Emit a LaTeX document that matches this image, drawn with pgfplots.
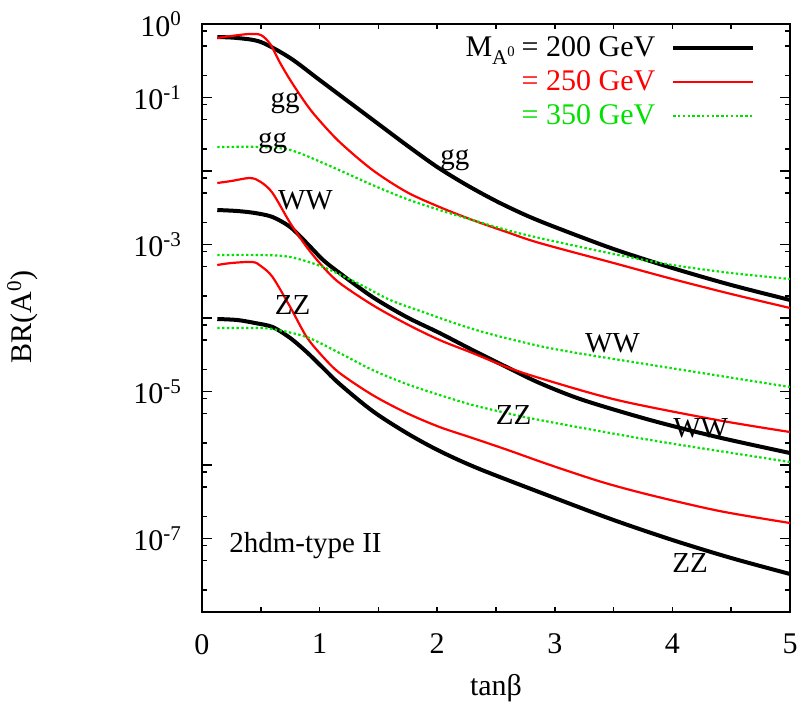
\documentclass[border=0pt]{standalone}
\usepackage{fontspec}
\setmainfont{Liberation Serif}
\usepackage{pgfplots}
\pgfplotsset{compat=1.18}
\newcommand{\fs}{\fontsize{15}{18}\selectfont}
\newcommand{\fl}{\fontsize{14.5}{17}\selectfont}
\definecolor{gnured}{RGB}{255,0,0}
\definecolor{gnugreen}{RGB}{0,225,0}
\begin{document}
\begin{tikzpicture}
\begin{axis}[
  name=ax, at={(0,0)}, anchor=south west,
  scale only axis, width=294pt, height=294pt,
  xmin=0, xmax=5, ymode=log, ymin=1e-8, ymax=1,
  axis line style={line width=0.9pt},
  xtick={0,1,2,3,4,5}, xticklabels={0,1,2,3,4,5},
  minor xtick={0.5,1,1.5,2,2.5,3,3.5,4,4.5},
  major x tick style={draw=none},
  ytick={1e-8,1e-7,1e-6,1e-5,1e-4,1e-3,1e-2,1e-1,1},
  yticklabels={,10\textsuperscript{-7},,10\textsuperscript{-5},,10\textsuperscript{-3},,10\textsuperscript{-1},10\textsuperscript{0}},
  minor ytick={2e-8,5e-8,8e-8,2e-7,5e-7,8e-7,2e-6,5e-6,8e-6,2e-5,5e-5,8e-5,2e-4,5e-4,8e-4,2e-3,5e-3,8e-3,2e-2,5e-2,8e-2,2e-1,5e-1,8e-1},
  tick style={black, line width=0.8pt},
  major tick length=5pt, minor tick length=2.5pt,
  tick label style={font=\fs},
  yticklabel style={xshift=-6.5pt},
  xticklabel style={yshift=-7.5pt},
  xlabel={tanβ}, ylabel={BR(A\textsuperscript{0})},
  label style={font=\fs},
  xlabel style={at={(rel axis cs:0.5,-0.129)}, anchor=center},
  ylabel style={at={(rel axis cs:-0.305,0.502)}, anchor=center},
  legend style={at={(rel axis cs:0.945,0.99)}, anchor=north east, draw=none, fill=none, font=\fs, row sep=1.5pt, column sep=6pt, inner sep=1pt},
  legend cell align=right,
  legend plot pos=right,
  legend image code/.code={\draw[#1] (0pt,0pt) -- (40pt,0pt);},
]
% gg
\addplot[black, line width=2pt, smooth, tension=0.5] coordinates {
(0.13,0.6656) (0.3,0.645) (0.5,0.5689) (0.75,0.3447) (1.0,0.1730) (1.25,0.08685) (1.5,0.04360) (1.75,0.02189) (2.0,0.011336) (2.25,0.00645) (2.5,0.003907) (2.75,0.002520) (3.0,0.001730) (3.5,0.0008685) (4.0,0.0004789) (4.5,0.0002812) (5.0,0.0001758)};
\addlegendentry{M\textsubscript{A\textsuperscript{0}}\,= 200 GeV}
\addplot[gnured, line width=1.1pt, smooth, tension=0.5] coordinates {
(0.13,0.645) (0.25,0.6867) (0.4,0.7311) (0.5,0.7085) (0.58,0.5344) (0.66,0.3041) (0.75,0.1730) (0.88,0.08417) (0.98,0.05261) (1.17,0.02480) (1.45,0.010318) (1.74,0.005179) (2.02,0.003237) (2.30,0.002154) (2.59,0.0014797) (2.87,0.0010481) (3.5,0.0005601) (4.0,0.0003393) (4.5,0.0002121) (5.0,0.0001368)};
\addlegendentry{\textcolor{gnured}{= 250 GeV}}
\addplot[gnugreen, line width=1.1pt, dash pattern=on 1.2pt off 1.2pt, smooth, tension=0.5] coordinates {
(0.13,0.02121) (0.5,0.02121) (0.75,0.01931) (1.03,0.012848) (1.45,0.00645) (1.74,0.004159) (2.02,0.002947) (2.30,0.002154) (2.59,0.001575) (2.87,0.0012258) (3.5,0.0007427) (4.0,0.0005261) (4.5,0.0004095) (5.0,0.0003393)};
\addlegendentry{\textcolor{gnugreen}{= 350 GeV}}
% WW
\addplot[black, line width=2pt, smooth, tension=0.5, forget plot] coordinates {
(0.13,0.002947) (0.3,0.002856) (0.45,0.002683) (0.60,0.0023665) (0.75,0.001730) (0.89,0.0010481) (1.03,0.0006154) (1.17,0.0004095) (1.45,0.0001931) (1.74,0.00010318) (2.02,6.251e-5) (2.30,3.670e-5) (2.59,2.154e-5) (2.87,1.305e-5) (3.24,7.661e-6) (3.81,4.095e-6) (4.38,2.404e-6) (5.0,1.456e-6)};
\addplot[gnured, line width=1.1pt, smooth, tension=0.5, forget plot] coordinates {
(0.13,0.006867) (0.25,0.007311) (0.41,0.008030) (0.5,0.007085) (0.60,0.00502) (0.75,0.0019615) (0.89,0.0009247) (1.03,0.0004942) (1.17,0.0002994) (1.45,0.00015026) (1.74,8.286e-5) (2.02,5.02e-5) (2.30,3.341e-5) (2.59,2.154e-5) (2.87,1.5265e-5) (3.53,7.661e-6) (4.38,4.095e-6) (5.0,2.812e-6)};
\addplot[gnugreen, line width=1.1pt, dash pattern=on 1.2pt off 1.2pt, smooth, tension=0.5, forget plot] coordinates {
(0.13,0.0007197) (0.5,0.0007197) (0.75,0.0006761) (1.03,0.0004942) (1.32,0.0002994) (1.60,0.0001758) (1.88,0.00012067) (2.17,8.286e-5) (2.45,6.057e-5) (2.87,4.159e-5) (3.24,3.237e-5) (4.09,1.962e-5) (5.0,1.151e-5)};
% ZZ
\addplot[black, line width=2pt, smooth, tension=0.5, forget plot] coordinates {
(0.13,9.691e-5) (0.3,9.393e-5) (0.45,8.55e-5) (0.60,7.544e-5) (0.75,5.344e-5) (0.89,3.447e-5) (1.03,2.088e-5) (1.17,1.2649e-5) (1.45,5.429e-6) (1.74,2.725e-6) (2.02,1.5505e-6) (2.36,8.820e-7) (3.0,3.556e-7) (3.5,1.785e-7) (4.0,9.541e-8) (4.5,5.429e-8) (5.0,3.289e-8)};
\addplot[gnured, line width=1.1pt, smooth, tension=0.5, forget plot] coordinates {
(0.13,5.261e-4) (0.25,5.601e-4) (0.43,5.779e-4) (0.5,5.098e-4) (0.60,3.612e-4) (0.75,1.4114e-4) (0.89,5.514e-5) (1.03,2.947e-5) (1.17,1.785e-5) (1.45,8.962e-6) (1.74,5.098e-6) (2.02,3.289e-6) (2.30,2.330e-6) (2.6,1.600e-6) (2.96,1.0e-6) (3.4,5.871e-7) (3.81,3.907e-7) (4.4,2.3665e-7) (5.0,1.625e-7)};
\addplot[gnugreen, line width=1.1pt, dash pattern=on 1.2pt off 1.2pt, smooth, tension=0.5, forget plot] coordinates {
(0.13,7.311e-5) (0.45,7.311e-5) (0.6,7.085e-5) (0.89,5.514e-5) (1.17,3.341e-5) (1.45,1.962e-5) (1.74,1.2649e-5) (2.02,8.962e-6) (2.30,6.551e-6) (2.59,5.098e-6) (2.87,4.095e-6) (3.81,2.189e-6) (5.0,1.099e-6)};
% labels
\node[font=\fl] at (axis cs:0.706,0.084) {gg};
\node[font=\fl] at (axis cs:0.60,0.024) {gg};
\node[font=\fl] at (axis cs:2.15,0.0141) {gg};
\node[font=\fl] at (axis cs:0.88,4.0e-3) {WW};
\node[font=\fl] at (axis cs:3.49,4.6e-5) {WW};
\node[font=\fl] at (axis cs:4.24,3.2e-6) {WW};
\node[font=\fl] at (axis cs:0.77,1.5e-4) {ZZ};
\node[font=\fl] at (axis cs:2.65,4.8e-6) {ZZ};
\node[font=\fl] at (axis cs:4.15,4.6e-8) {ZZ};
\node[font=\fl] at (axis cs:0.88,8.1e-8) {2hdm-type II};
\end{axis}
\path[use as bounding box] (-101pt,-47pt) rectangle (302.5pt,306pt);
\end{tikzpicture}
\end{document}
